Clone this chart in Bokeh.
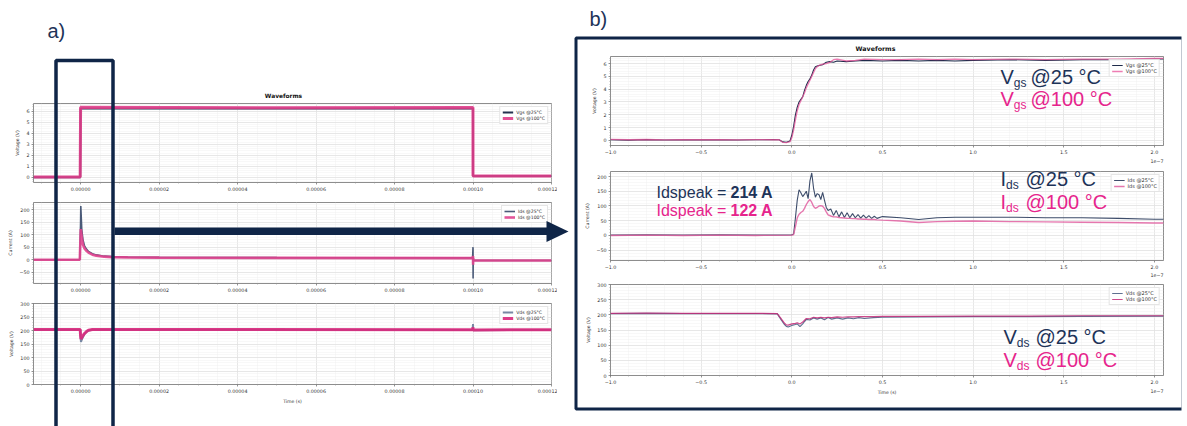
import numpy as np
from bokeh.plotting import figure
from bokeh.layouts import column
from bokeh.models import (Range1d, FixedTicker, CustomJSTickFormatter, Label,
                          BoxAnnotation, PolyAnnotation)
from bokeh.core.properties import value
from bokeh.embed import file_html
from bokeh.resources import INLINE

# ---------------- data: a) full pulse (time in s) ----------------
t_vgs_full = [-1.2e-5, -1.0e-7, 0.0, 5.0e-5, 9.999e-5, 1.0e-4, 1.2e-4]
vgs25_full = [0.0, 0.0, 6.25, 6.25, 6.25, 0.1, 0.1]
vgs100_full = [0.02, 0.02, 6.35, 6.32, 6.33, 0.12, 0.12]

t_ids_full = [-1.2e-5, -2.0e-7, 0.0, 5.0e-8, 3.0e-7, 6.0e-7, 1.0e-6, 1.5e-6, 2.0e-6,
              3.0e-6, 4.0e-6, 6.0e-6, 8.0e-6, 1.2e-5, 2.0e-5, 5.0e-5, 9.99e-5, 1.0e-4,
              1.0002e-4, 1.0005e-4, 1.001e-4, 1.2e-4]
ids25_full = [0, 0, 150, 214, 120, 80, 55, 42, 33, 24, 19, 14, 12, 10, 9, 8, 7, 50, -75, 10, -3, -3]
ids100_full = [0, 0, 100, 122, 90, 60, 45, 35, 28, 20, 16, 12, 10, 9, 8, 7, 6, 15, -20, 6, -3, -3]

t_vds_full = [-1.2e-5, -1.0e-7, 0.0, 1.0e-7, 3.0e-7, 6.0e-7, 1.0e-6, 1.5e-6, 2.0e-6,
              3.0e-6, 9.99e-5, 1.0e-4, 1.0003e-4, 1.2e-4]
vds25_full = [203, 203, 175, 158, 166, 176, 187, 195, 200, 203, 202, 224, 201, 202]
vds100_full = [204, 204, 180, 168, 174, 181, 189, 196, 201, 204, 203, 212, 202, 203]

# ---------------- data: b) zoom on turn-on (time in units of 1e-7 s) ----------------
t_vgs_zoom = [-1.0, -0.9, -0.8, -0.7, -0.6, -0.5, -0.4, -0.3, -0.2, -0.1, -0.07, -0.05, -0.03,
              -0.01, 0.0, 0.01, 0.02, 0.03, 0.04, 0.05, 0.06, 0.07, 0.08, 0.09, 0.1, 0.11, 0.12,
              0.13, 0.14, 0.15, 0.17, 0.19, 0.21, 0.23, 0.25, 0.3, 0.35, 0.4, 0.5, 0.6, 0.7,
              0.8, 0.9, 1.0, 1.2, 1.4, 1.6, 1.8, 2.0, 2.05]
vgs25_zoom = [0.05, 0.02, 0.06, 0.03, 0.05, 0.04, 0.05, 0.03, 0.05, 0.06, 0.05, -0.12, -0.15,
              -0.05, 0.4, 1.1, 2.0, 2.6, 3.0, 3.2, 3.4, 3.9, 4.3, 4.6, 4.8, 5.1, 5.5,
              5.75, 5.8, 5.85, 5.9, 6.1, 6.15, 6.1, 6.2, 6.15, 6.2, 6.25, 6.2, 6.25, 6.2,
              6.25, 6.2, 6.25, 6.3, 6.25, 6.3, 6.3, 6.35, 6.35]
vgs100_zoom = [0.08, 0.05, 0.07, 0.04, 0.06, 0.05, 0.06, 0.04, 0.06, 0.05, 0.05, -0.15, -0.18,
               -0.1, 0.2, 0.8, 1.6, 2.3, 2.8, 3.1, 3.4, 3.7, 4.1, 4.4, 4.7, 5.0, 5.3,
               5.6, 5.75, 5.85, 5.95, 6.0, 6.1, 6.3, 6.35, 6.2, 6.25, 6.35, 6.3, 6.3, 6.35,
               6.3, 6.35, 6.3, 6.35, 6.3, 6.35, 6.35, 6.4, 6.4]

t_ids_zoom = [-1.0, -0.8, -0.6, -0.4, -0.2, 0.0, 0.01, 0.02, 0.03, 0.04, 0.05, 0.06, 0.07, 0.08,
              0.09, 0.1, 0.11, 0.12, 0.13, 0.14, 0.15, 0.16, 0.17, 0.18, 0.19, 0.2, 0.215, 0.23,
              0.245, 0.26, 0.275, 0.29, 0.305, 0.32, 0.335, 0.35, 0.365, 0.38, 0.395, 0.41,
              0.425, 0.44, 0.455, 0.47, 0.5, 0.6, 0.7, 0.8, 0.9, 1.0, 1.2, 1.4, 1.6, 1.8, 2.0, 2.05]
ids25_zoom = [1, 2, 1, 2, 1, 2, 5, 60, 120, 155, 145, 132, 140, 150,
              125, 185, 212, 160, 130, 142, 138, 122, 146, 120, 95, 85, 90, 68,
              85, 63, 80, 61, 77, 60, 74, 60, 71, 59, 69, 59,
              67, 58, 65, 58, 64, 60, 54, 60, 62, 62, 62, 60, 60, 58, 55, 55]
ids100_zoom = [0, 1, 0, 1, 0, 1, 3, 30, 60, 72, 78, 82, 92, 105,
               115, 122, 112, 98, 92, 95, 100, 101, 99, 92, 80, 70, 66, 63,
               63, 61, 60, 59, 58, 58, 57, 57, 56, 56, 55, 55,
               54, 54, 54, 53, 52, 49, 44, 47, 48, 49, 47, 46, 45, 44, 42, 42]

t_vds_zoom = [-1.0, -0.8, -0.6, -0.4, -0.2, -0.08, -0.06, -0.04, -0.03, -0.02, 0.0, 0.02, 0.03,
              0.045, 0.06, 0.07, 0.08, 0.1, 0.12, 0.14, 0.16, 0.18, 0.2, 0.22, 0.25, 0.28, 0.31,
              0.34, 0.37, 0.4, 0.45, 0.5, 0.7, 1.0, 1.3, 1.6, 2.05]
vds25_zoom = [204, 205, 204, 204, 204, 203, 185, 168, 162, 160, 165, 168, 170,
              161, 170, 178, 185, 183, 190, 186, 190, 184, 191, 186, 190, 186, 190,
              187, 191, 188, 191, 192, 193, 194, 194, 195, 196]
vds100_zoom = [205, 206, 205, 205, 205, 204, 188, 172, 167, 166, 170, 172, 174,
               170, 176, 182, 188, 187, 192, 190, 192, 190, 192, 191, 193, 192, 193,
               193, 194, 194, 194, 195, 195, 196, 196, 197, 197]

series_labels = ["@25°C", "@100°C"]

# ---------------- styling ----------------
NAVY = "#0f2547"
TXT_NAVY = "#1d3358"
TXT_PINK = "#e6248c"
FONT = "DejaVu Sans"

fmt_x_full = CustomJSTickFormatter(code="return tick.toFixed(5);")
fmt_x_zoom = CustomJSTickFormatter(
    code="var s = Math.abs(tick).toFixed(1); return (tick < -1e-9 ? '\u2212' : '') + s;")
fmt_y = CustomJSTickFormatter(
    code="var s = Math.abs(Math.round(tick)).toString(); return (tick < -1e-9 ? '\u2212' : '') + s;")

x_full_major = [0.0, 2e-5, 4e-5, 6e-5, 8e-5, 1e-4, 1.2e-4]
x_full_minor = [k * 5e-6 for k in range(-2, 25)]
x_zoom_major = [-1.0, -0.5, 0.0, 0.5, 1.0, 1.5, 2.0]
x_zoom_minor = [round(-1.0 + 0.1 * k, 2) for k in range(0, 31)]
y_vgs_major = [0, 1, 2, 3, 4, 5, 6]
y_vgs_minor = [round(0.2 * k, 2) for k in range(-2, 34)]
y_ids_major = [-50, 0, 50, 100, 150, 200]
y_ids_minor = list(range(-90, 230, 10))
y_vds_major = [0, 50, 100, 150, 200, 250, 300]
y_vds_minor = list(range(0, 310, 10))


def panel(frame, borders, xr, yr, xt, yt, xfmt, ylabel, xlabel=None):
    fx0, fy0, fx1, fy1 = frame
    bl, bt, br, bb = borders
    p = figure(width=fx1 - fx0 + bl + br, height=fy1 - fy0 + bt + bb,
               x_range=Range1d(*xr), y_range=Range1d(*yr),
               toolbar_location=None, output_backend="svg", title=None,
               min_border_left=bl, min_border_right=br,
               min_border_top=bt, min_border_bottom=bb,
               border_fill_color=None, background_fill_color="white",
               outline_line_color="#707070", outline_line_width=0.8)
    p.styles = {"position": "absolute", "left": f"{fx0 - bl}px", "top": f"{fy0 - bt}px"}
    p.xaxis.ticker = FixedTicker(ticks=xt[0], minor_ticks=xt[1])
    p.yaxis.ticker = FixedTicker(ticks=yt[0], minor_ticks=yt[1])
    p.xaxis.formatter = xfmt
    p.yaxis.formatter = fmt_y
    for ax in (p.xaxis[0], p.yaxis[0]):
        ax.axis_line_color = None
        ax.major_tick_in = 0
        ax.major_tick_out = 2
        ax.minor_tick_in = 0
        ax.minor_tick_out = 1
        ax.major_tick_line_color = "#555555"
        ax.minor_tick_line_color = "#777777"
        ax.major_tick_line_width = 0.6
        ax.minor_tick_line_width = 0.5
        ax.major_label_text_font = FONT
        ax.major_label_text_font_size = "4.8px"
        ax.major_label_text_color = "#333333"
        ax.major_label_standoff = 2
        ax.axis_label_text_font = FONT
        ax.axis_label_text_font_size = "4.6px"
        ax.axis_label_text_font_style = "normal"
        ax.axis_label_text_color = "#333333"
        ax.axis_label_standoff = 3
    p.yaxis.axis_label = ylabel
    if xlabel:
        p.xaxis.axis_label = xlabel
    for g in (p.xgrid[0], p.ygrid[0]):
        g.grid_line_color = "#dcdcdc"
        g.grid_line_width = 0.6
        g.minor_grid_line_color = "#f0f0f0"
        g.minor_grid_line_width = 0.5
    return p


def style_legend(p, label_size):
    lg = p.legend[0]
    lg.location = "top_right"
    lg.margin = 3
    lg.padding = 2
    lg.spacing = 0
    lg.label_text_font = FONT
    lg.label_text_font_size = label_size
    lg.label_text_color = "#333333"
    lg.label_height = 6
    lg.glyph_height = 6
    lg.glyph_width = 11
    lg.label_standoff = 3
    lg.border_line_color = "#cccccc"
    lg.border_line_width = 0.7
    lg.background_fill_alpha = 0.85


figs = []

# ---------- a) ----------
xr_full = (-1.2e-5, 1.2e-4)

l1 = panel((33, 103, 551, 182), (33, 4, 6, 16), xr_full, (-0.48, 6.7),
           (x_full_major, x_full_minor), (y_vgs_major, y_vgs_minor), fmt_x_full, "Voltage (V)")
l1.line(t_vgs_full, vgs25_full, line_color="#24324f", line_width=2.0, legend_label="Vgs " + series_labels[0])
l1.line(t_vgs_full, vgs100_full, line_color="#e03d8a", line_width=3.0, line_alpha=0.9,
        legend_label="Vgs " + series_labels[1])
style_legend(l1, "4.6px")
figs.append(l1)

l2 = panel((33, 202, 551, 283), (33, 4, 6, 16), xr_full, (-95, 228),
           (x_full_major, x_full_minor), (y_ids_major, y_ids_minor), fmt_x_full, "Current (A)")
l2.line(t_ids_full, ids25_full, line_color="#4a5a78", line_width=1.6, legend_label="Ids " + series_labels[0])
l2.line(t_ids_full, ids100_full, line_color="#e0438e", line_width=2.6, line_alpha=0.9,
        legend_label="Ids " + series_labels[1])
style_legend(l2, "4.6px")
figs.append(l2)

l3 = panel((33, 303, 551, 384), (33, 4, 6, 24), xr_full, (0, 300),
           (x_full_major, x_full_minor), (y_vds_major, y_vds_minor), fmt_x_full, "Voltage (V)", "Time (s)")
l3.line(t_vds_full, vds25_full, line_color="#7888a3", line_width=2.0, legend_label="Vds " + series_labels[0])
l3.line(t_vds_full, vds100_full, line_color="#d9287c", line_width=3.0, line_alpha=0.9,
        legend_label="Vds " + series_labels[1])
style_legend(l3, "4.6px")
figs.append(l3)

# ---------- b) ----------
R_TOP = (28, 4, 6, 16)
R_BOT = (28, 4, 6, 22)
xr_zoom = (-1.0, 2.05)

r1 = panel((605, 56, 1163, 145), R_TOP, xr_zoom, (-0.4, 6.55),
           (x_zoom_major, x_zoom_minor), (y_vgs_major, y_vgs_minor), fmt_x_zoom, "Voltage (V)")
r1.line(t_vgs_zoom, vgs25_zoom, line_color="#1e2b4a", line_width=1.1, legend_label="Vgs " + series_labels[0])
r1.line(t_vgs_zoom, vgs100_zoom, line_color="#e8529a", line_width=1.3, line_alpha=0.75,
        legend_label="Vgs " + series_labels[1])
style_legend(r1, "5px")
figs.append(r1)

r2 = panel((605, 171, 1163, 260), R_TOP, xr_zoom, (-85, 217),
           (x_zoom_major, x_zoom_minor), (y_ids_major, y_ids_minor), fmt_x_zoom, "Current (A)")
r2.line(t_ids_zoom, ids25_zoom, line_color="#3e4d6b", line_width=1.1, legend_label="Ids " + series_labels[0])
r2.line(t_ids_zoom, ids100_zoom, line_color="#e05fa0", line_width=1.4, line_alpha=0.85,
        legend_label="Ids " + series_labels[1])
style_legend(r2, "5px")
figs.append(r2)

r3 = panel((605, 284, 1163, 375), R_BOT, xr_zoom, (0, 300),
           (x_zoom_major, x_zoom_minor), (y_vds_major, y_vds_minor), fmt_x_zoom, "Voltage (V)", "Time (s)")
r3.line(t_vds_zoom, vds25_zoom, line_color="#5f7090", line_width=1.2, legend_label="Vds " + series_labels[0])
r3.line(t_vds_zoom, vds100_zoom, line_color="#c42a78", line_width=1.2, line_alpha=0.85,
        legend_label="Vds " + series_labels[1])
style_legend(r3, "5px")
figs.append(r3)

# ---------- overlay (decorations and free text, canvas-pixel coordinates) ----------
ov = figure(width=1187, height=426, x_range=Range1d(0, 1187), y_range=Range1d(426, 0),
            x_axis_type=None, y_axis_type=None, min_border=0, toolbar_location=None,
            output_backend="svg", title=None, outline_line_color=None,
            background_fill_color=None, border_fill_color=None)
ov.styles = {"position": "absolute", "left": "0px", "top": "0px", "z-index": "10"}

CU = dict(left_units="canvas", right_units="canvas", top_units="canvas", bottom_units="canvas")
ov.add_layout(BoxAnnotation(left=55.5, right=112.5, top=60, bottom=440, fill_color=None,
                            line_color=NAVY, line_alpha=1.0, line_width=3.5, **CU))
ov.add_layout(BoxAnnotation(left=114, right=547, top=227, bottom=234.5, fill_color=NAVY,
                            fill_alpha=1.0, line_color=None, **CU))
ov.add_layout(PolyAnnotation(xs=[546, 568, 546], ys=[220.5, 231, 241.5], fill_color=NAVY,
                             fill_alpha=1.0, line_color=None, xs_units="canvas", ys_units="canvas"))
ov.add_layout(BoxAnnotation(left=575.5, right=1182.5, top=37.5, bottom=408.5, fill_color=None,
                            line_color=NAVY, line_alpha=1.0, line_width=3, **CU))


def lab(x, y, s, size, color, bold=False, font="Liberation Sans", align="left"):
    ov.add_layout(Label(x=x, y=y, text=s, text_font=font, text_font_size=f"{size}px",
                        text_color=color, text_font_style="bold" if bold else "normal",
                        text_align=align, text_baseline="middle",
                        x_units="canvas", y_units="canvas"))


lab(47, 30, "a)", 20, TXT_NAVY)
lab(589, 18, "b)", 20, TXT_NAVY)
lab(283, 95, "Waveforms", 5.9, "#111111", bold=True, font=FONT, align="center")
lab(875, 48, "Waveforms", 6.3, "#111111", bold=True, font=FONT, align="center")
for yc in (160, 274, 390):
    lab(1163, yc, "1e\u22127", 4.8, "#333333", font=FONT, align="right")


def sub_label(x, yb, main, sub, rest, color, main_w, rest_dx):
    # yb = baseline of the main text; subscript 12px sits ~4px lower
    lab(x, yb - 7, main, 20, color)
    lab(x + main_w, yb - 0.2, sub, 12, color)
    lab(x + rest_dx, yb - 7, rest, 20, color)


sub_label(1000, 83, "V", "gs", "@25 °C", TXT_NAVY, 13.3, 30)
sub_label(1000, 105, "V", "gs", "@100 °C", TXT_PINK, 13.3, 30)
sub_label(1000, 185, "I", "ds", "@25 °C", TXT_NAVY, 5.6, 25)
sub_label(1000, 208, "I", "ds", "@100 °C", TXT_PINK, 5.6, 25)
sub_label(1003, 343, "V", "ds", "@25 °C", TXT_NAVY, 13.3, 32)
sub_label(1003, 366, "V", "ds", "@100 °C", TXT_PINK, 13.3, 32)

lab(656, 191.5, "Idspeak =", 16, TXT_NAVY)
lab(730, 191.5, "214 A", 16, TXT_NAVY, bold=True)
lab(656, 209.5, "Idspeak =", 16, TXT_PINK)
lab(730, 209.5, "122 A", 16, TXT_PINK, bold=True)

root = column(*figs, ov, width=1187, height=426, sizing_mode="fixed")
root.styles = {"position": "relative"}

open("out.html", "w").write(file_html(root, INLINE))
